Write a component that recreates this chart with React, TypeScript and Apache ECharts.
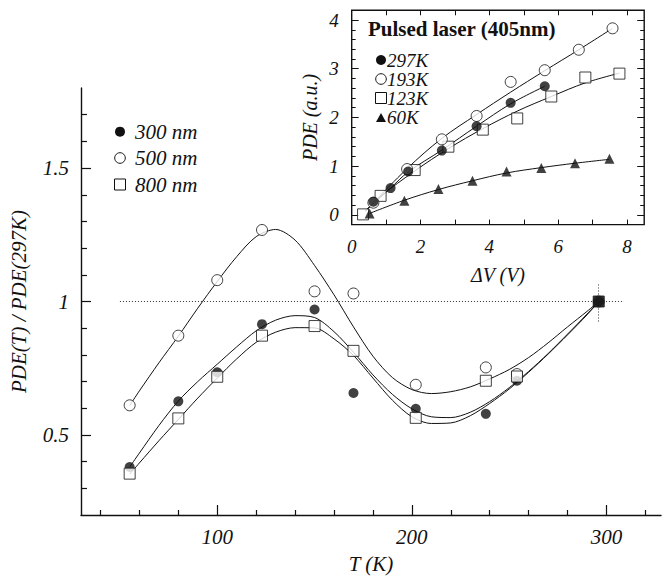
import React, { useEffect, useRef } from "react";
import * as echarts from "echarts";

// ---------- Main plot data ----------
const tempK = [55, 80, 100, 123, 150, 170, 202, 238, 254, 296];
const pde300 = [0.38, 0.626, 0.735, 0.915, 0.97, 0.657, 0.598, 0.579, 0.703, 1.0];
const pde500 = [0.611, 0.872, 1.08, 1.268, 1.038, 1.03, 0.688, 0.753, 0.728, 1.0];
const pde800 = [0.355, 0.562, 0.718, 0.872, 0.908, 0.815, 0.564, 0.703, 0.719, 1.0];

// fitted curves
const fitT = [55, 60, 70, 80, 90, 100, 110, 120, 130, 140, 150, 160, 170, 180, 190, 200, 210, 220, 230, 240, 250, 260, 270, 280, 290, 296];
const fit500 = [0.61, 0.665, 0.77, 0.87, 0.975, 1.075, 1.168, 1.243, 1.27, 1.23, 1.135, 1.025, 0.905, 0.795, 0.715, 0.67, 0.655, 0.662, 0.68, 0.71, 0.745, 0.79, 0.845, 0.905, 0.963, 1.0];
const fit300 = [0.38, 0.432, 0.535, 0.627, 0.7, 0.765, 0.83, 0.89, 0.93, 0.947, 0.94, 0.887, 0.81, 0.725, 0.652, 0.598, 0.568, 0.565, 0.585, 0.625, 0.677, 0.738, 0.805, 0.878, 0.953, 1.0];
const fit800 = [0.353, 0.395, 0.478, 0.558, 0.638, 0.713, 0.785, 0.847, 0.885, 0.902, 0.901, 0.86, 0.798, 0.713, 0.63, 0.568, 0.543, 0.545, 0.572, 0.618, 0.672, 0.735, 0.803, 0.875, 0.95, 1.0];

const unityLevel = 1;
const unityRange = [50, 309];
const refT = 296;
const refTRange = [0.925, 1.067];

const mainXLabels = [100, 200, 300];
const mainXMinor = [40, 60, 80, 120, 140, 160, 180, 220, 240, 260, 280, 320];
const mainYLabels = [0.5, 1, 1.5];
const mainYMinor = [0.3, 0.4, 0.6, 0.7, 0.8, 0.9, 1.1, 1.2, 1.3, 1.4, 1.6, 1.7];

const mainLegend = ["300 nm", "500 nm", "800 nm"];

// ---------- Inset data ----------
const dv297 = [0.63, 1.13, 1.64, 2.62, 3.63, 4.62, 5.61];
const pde297 = [0.27, 0.55, 0.89, 1.32, 1.82, 2.3, 2.64];
const dv193 = [0.63, 1.61, 2.62, 3.63, 4.62, 5.61, 6.6, 7.58];
const pde193 = [0.25, 0.94, 1.55, 2.03, 2.73, 2.97, 3.39, 3.83];
const dv123 = [0.33, 0.84, 1.83, 2.81, 3.81, 4.81, 5.8, 6.79, 7.78];
const pde123 = [0.01, 0.39, 0.92, 1.4, 1.75, 1.98, 2.43, 2.82, 2.9];
const dv60 = [0.52, 1.53, 2.52, 3.51, 4.5, 5.51, 6.49, 7.49];
const pde60 = [0.03, 0.29, 0.53, 0.7, 0.89, 0.96, 1.06, 1.15];

const fitDv193 = [0.4, 1.61, 2.62, 3.63, 4.62, 5.61, 6.6, 7.58];
const fit193 = [0.08, 0.95, 1.57, 2.06, 2.52, 2.96, 3.39, 3.83];
const fitDv297 = [0.4, 1.13, 1.64, 2.62, 3.63, 4.62, 5.61];
const fit297 = [0.08, 0.55, 0.88, 1.33, 1.82, 2.28, 2.64];
const fitDv123 = [0.4, 0.84, 1.83, 2.81, 3.81, 4.81, 5.8, 6.79, 7.78];
const fit123 = [0.08, 0.38, 0.9, 1.36, 1.77, 2.13, 2.43, 2.71, 2.91];
const fitDv60 = [0.52, 1.53, 2.52, 3.51, 4.5, 5.51, 6.49, 7.49];
const fit60 = [0.03, 0.3, 0.52, 0.7, 0.86, 0.97, 1.06, 1.14];

const insetXLabels = [0, 2, 4, 6, 8];
const insetXTicks = [1, 2, 3, 4, 5, 6, 7, 8];
const insetYLabels = [0, 1, 2, 3, 4];
const insetYMinor = [0.2, 0.4, 0.6, 0.8, 1.2, 1.4, 1.6, 1.8, 2.2, 2.4, 2.6, 2.8, 3.2, 3.4, 3.6, 3.8, 4.0];
const insetLegend = ["297K", "193K", "123K", "60K"];
const insetTitle = "Pulsed laser (405nm)";

const FONT = "'Liberation Serif', 'Times New Roman', serif";
const INK = "#111";

const zip = (xs: number[], ys: number[]) => xs.map((x, i) => [x, ys[i]]);

function buildOption() {
  const lineStyle = { color: INK, width: 1 };
  const labelStyle = { fontFamily: FONT, fontStyle: "italic", fontSize: 21, color: INK };
  const insetLabelStyle = { fontFamily: FONT, fontStyle: "italic", fontSize: 19, color: INK };

  const fitLine = (name: string, xi: number, yi: number, data: number[][], smooth = 0.35) => ({
    name,
    type: "line",
    xAxisIndex: xi,
    yAxisIndex: yi,
    data,
    smooth,
    showSymbol: false,
    symbol: "none",
    lineStyle,
    silent: true,
    z: 2,
  });

  const textItem = (x: number, y: number, text: string, size = 20) => ({
    type: "text",
    x,
    y,
    style: {
      text,
      fontFamily: FONT,
      fontStyle: "italic",
      fontSize: size,
      lineHeight: size,
      fill: INK,
      verticalAlign: "middle",
      align: "left",
    },
  });

  const mainLegendY = [131.7, 158, 184.5];
  const insetLegendY = [60, 79, 98, 117.5];

  return {
    animation: false,
    backgroundColor: "#fff",
    grid: [
      { left: 81, top: 88, width: 580, height: 430, containLabel: false },
      {
        left: 351.7,
        top: 10.3,
        width: 292.5,
        height: 214.3,
        show: true,
        borderColor: INK,
        borderWidth: 1.4,
        backgroundColor: "transparent",
      },
    ],
    xAxis: [
      {
        type: "value",
        gridIndex: 0,
        position: "bottom",
        min: 30,
        max: 328,
        axisLine: { show: true, onZero: false, lineStyle: { color: INK, width: 1.4 } },
        axisTick: { show: true, inside: true, length: 5, customValues: mainXMinor, lineStyle: { color: INK, width: 1.2 } },
        axisLabel: { show: true, customValues: mainXLabels, margin: 11, ...labelStyle },
        splitLine: { show: false },
        name: "T (K)",
        nameLocation: "middle",
        nameGap: 38,
        nameTextStyle: { ...labelStyle, fontSize: 21 },
      },
      {
        type: "value",
        gridIndex: 0,
        position: "bottom",
        min: 30,
        max: 328,
        axisLine: { show: false, onZero: false },
        axisTick: { show: true, inside: true, length: 10, customValues: mainXLabels, lineStyle: { color: INK, width: 1.2 } },
        axisLabel: { show: false },
        splitLine: { show: false },
      },
      {
        type: "value",
        gridIndex: 1,
        position: "bottom",
        min: 0,
        max: 8.5,
        axisLine: { show: false, onZero: false },
        axisTick: { show: true, inside: true, length: 5, customValues: insetXTicks, lineStyle: { color: INK, width: 1 } },
        axisLabel: { show: true, customValues: insetXLabels, margin: 12, ...insetLabelStyle },
        splitLine: { show: false },
        name: "ΔV (V)",
        nameLocation: "middle",
        nameGap: 40,
        nameTextStyle: { ...insetLabelStyle, fontSize: 20 },
      },
      {
        type: "value",
        gridIndex: 1,
        position: "top",
        min: 0,
        max: 8.5,
        axisLine: { show: false, onZero: false },
        axisTick: { show: true, inside: true, length: 5, customValues: insetXTicks, lineStyle: { color: INK, width: 1 } },
        axisLabel: { show: false },
        splitLine: { show: false },
      },
    ],
    yAxis: [
      {
        type: "value",
        gridIndex: 0,
        position: "left",
        min: 0.2,
        max: 1.8,
        axisLine: { show: true, onZero: false, lineStyle: { color: INK, width: 1.4 } },
        axisTick: { show: true, inside: true, length: 6, customValues: mainYMinor, lineStyle: { color: INK, width: 1.2 } },
        axisLabel: { show: true, customValues: mainYLabels, margin: 12, ...labelStyle },
        splitLine: { show: false },
        name: "PDE(T) / PDE(297K)",
        nameLocation: "middle",
        nameGap: 52,
        nameTextStyle: { ...labelStyle, fontSize: 21 },
      },
      {
        type: "value",
        gridIndex: 0,
        position: "left",
        min: 0.2,
        max: 1.8,
        axisLine: { show: false, onZero: false },
        axisTick: { show: true, inside: true, length: 10, customValues: mainYLabels, lineStyle: { color: INK, width: 1.2 } },
        axisLabel: { show: false },
        splitLine: { show: false },
      },
      {
        type: "value",
        gridIndex: 1,
        position: "left",
        min: -0.2,
        max: 4.2,
        axisLine: { show: false, onZero: false },
        axisTick: { show: true, inside: true, length: 4, customValues: insetYMinor, lineStyle: { color: INK, width: 1 } },
        axisLabel: { show: true, customValues: insetYLabels, margin: 13, ...insetLabelStyle },
        splitLine: { show: false },
        name: "PDE (a.u.)",
        nameLocation: "middle",
        nameGap: 32,
        nameTextStyle: { ...insetLabelStyle, fontSize: 20 },
      },
      {
        type: "value",
        gridIndex: 1,
        position: "left",
        min: -0.2,
        max: 4.2,
        axisLine: { show: false, onZero: false },
        axisTick: { show: true, inside: true, length: 7, customValues: insetYLabels, lineStyle: { color: INK, width: 1 } },
        axisLabel: { show: false },
        splitLine: { show: false },
      },
      {
        type: "value",
        gridIndex: 1,
        position: "right",
        min: -0.2,
        max: 4.2,
        axisLine: { show: false, onZero: false },
        axisTick: { show: true, inside: true, length: 4, customValues: insetYMinor, lineStyle: { color: INK, width: 1 } },
        axisLabel: { show: false },
        splitLine: { show: false },
      },
      {
        type: "value",
        gridIndex: 1,
        position: "right",
        min: -0.2,
        max: 4.2,
        axisLine: { show: false, onZero: false },
        axisTick: { show: true, inside: true, length: 7, customValues: insetYLabels, lineStyle: { color: INK, width: 1 } },
        axisLabel: { show: false },
        splitLine: { show: false },
      },
    ],
    series: [
      // main fits
      {
        ...fitLine("fit 500 nm", 0, 0, zip(fitT, fit500), 0.3),
        markLine: {
          silent: true,
          symbol: "none",
          label: { show: false },
          lineStyle: { type: [1, 2], color: "#333", width: 1 },
          data: [
            [{ coord: [unityRange[0], unityLevel] }, { coord: [unityRange[1], unityLevel] }],
            [{ coord: [refT, refTRange[0]] }, { coord: [refT, refTRange[1]] }],
          ],
        },
      },
      fitLine("fit 300 nm", 0, 0, zip(fitT, fit300), 0.3),
      fitLine("fit 800 nm", 0, 0, zip(fitT, fit800), 0.3),
      // main points
      {
        name: mainLegend[1],
        type: "scatter",
        xAxisIndex: 0,
        yAxisIndex: 0,
        data: zip(tempK, pde500),
        symbol: "circle",
        symbolSize: 11,
        itemStyle: { color: "#fff", borderColor: INK, borderWidth: 1 },
        z: 3,
      },
      {
        name: mainLegend[0],
        type: "scatter",
        xAxisIndex: 0,
        yAxisIndex: 0,
        data: zip(tempK, pde300),
        symbol: "circle",
        symbolSize: 10,
        itemStyle: { color: INK },
        z: 4,
      },
      {
        name: mainLegend[2],
        type: "scatter",
        xAxisIndex: 0,
        yAxisIndex: 0,
        data: zip(tempK, pde800).map((p, i, arr) =>
          i === arr.length - 1 ? { value: p, itemStyle: { color: INK } } : p
        ),
        symbol: "rect",
        symbolSize: 11,
        itemStyle: { color: "#fff", borderColor: INK, borderWidth: 1 },
        z: 5,
      },
      // inset fits
      fitLine("fit 193K", 2, 2, zip(fitDv193, fit193)),
      fitLine("fit 297K", 2, 2, zip(fitDv297, fit297)),
      fitLine("fit 123K", 2, 2, zip(fitDv123, fit123)),
      fitLine("fit 60K", 2, 2, zip(fitDv60, fit60)),
      // inset points
      {
        name: insetLegend[2],
        type: "scatter",
        xAxisIndex: 2,
        yAxisIndex: 2,
        data: zip(dv123, pde123),
        symbol: "rect",
        symbolSize: 11,
        itemStyle: { color: "#fff", borderColor: INK, borderWidth: 1 },
        z: 3,
      },
      {
        name: insetLegend[1],
        type: "scatter",
        xAxisIndex: 2,
        yAxisIndex: 2,
        data: zip(dv193, pde193),
        symbol: "circle",
        symbolSize: 11,
        itemStyle: { color: "#fff", borderColor: INK, borderWidth: 1 },
        z: 4,
      },
      {
        name: insetLegend[0],
        type: "scatter",
        xAxisIndex: 2,
        yAxisIndex: 2,
        data: zip(dv297, pde297),
        symbol: "circle",
        symbolSize: 10,
        itemStyle: { color: INK },
        z: 5,
      },
      {
        name: insetLegend[3],
        type: "scatter",
        xAxisIndex: 2,
        yAxisIndex: 2,
        data: zip(dv60, pde60),
        symbol: "triangle",
        symbolSize: 10,
        itemStyle: { color: INK },
        z: 5,
      },
    ],
    graphic: [
      // main legend
      { type: "circle", shape: { cx: 120, cy: mainLegendY[0], r: 5 }, style: { fill: INK } },
      { type: "circle", shape: { cx: 120, cy: mainLegendY[1], r: 5.3 }, style: { fill: "#fff", stroke: INK, lineWidth: 1 } },
      { type: "rect", shape: { x: 114.5, y: mainLegendY[2] - 5.5, width: 11, height: 11 }, style: { fill: "#fff", stroke: INK, lineWidth: 1 } },
      textItem(135, mainLegendY[0], mainLegend[0], 21),
      textItem(135, mainLegendY[1], mainLegend[1], 21),
      textItem(135, mainLegendY[2], mainLegend[2], 21),
      // inset title
      {
        type: "text",
        x: 368,
        y: 29,
        style: {
          text: insetTitle,
          fontFamily: FONT,
          fontWeight: "bold",
          fontSize: 21,
          fill: INK,
          verticalAlign: "middle",
          align: "left",
        },
      },
      // inset legend
      { type: "circle", shape: { cx: 381, cy: insetLegendY[0], r: 5 }, style: { fill: INK } },
      { type: "circle", shape: { cx: 381, cy: insetLegendY[1], r: 5.3 }, style: { fill: "#fff", stroke: INK, lineWidth: 1 } },
      { type: "rect", shape: { x: 375.5, y: insetLegendY[2] - 5.5, width: 11, height: 11 }, style: { fill: "#fff", stroke: INK, lineWidth: 1 } },
      {
        type: "polygon",
        shape: { points: [[376, insetLegendY[3] + 4.5], [386, insetLegendY[3] + 4.5], [381, insetLegendY[3] - 4.5]] },
        style: { fill: INK },
      },
      textItem(387, insetLegendY[0], insetLegend[0], 19),
      textItem(387, insetLegendY[1], insetLegend[1], 19),
      textItem(387, insetLegendY[2], insetLegend[2], 19),
      textItem(387, insetLegendY[3], insetLegend[3], 19),
    ],
  };
}

export default function App() {
  const ref = useRef<HTMLDivElement>(null);
  useEffect(() => {
    document.body.style.margin = "0";
    const chart = echarts.init(ref.current!, null, { renderer: "svg" });
    chart.setOption(buildOption() as any);
    return () => chart.dispose();
  }, []);
  return <div ref={ref} style={{ width: 662, height: 579 }} />;
}
